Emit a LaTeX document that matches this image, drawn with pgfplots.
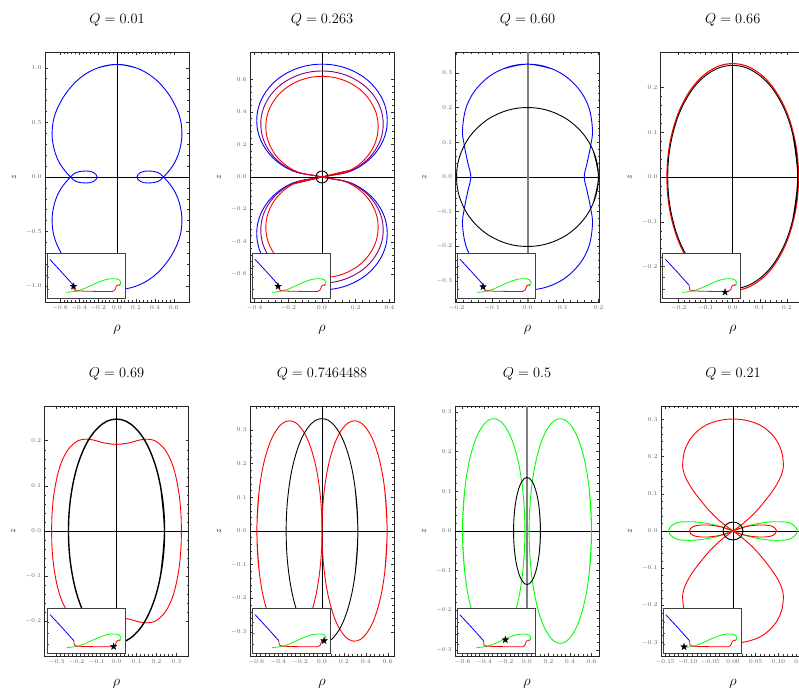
\documentclass[border=0pt]{standalone}
\usepackage{pgfplots}
\pgfplotsset{compat=1.18}
\usepackage{pgfplotstable}

\definecolor{mgreen}{rgb}{0,1,0}
\definecolor{mpurple}{rgb}{0.5,0,0.5}

% filled five-pointed star
\pgfdeclareplotmark{fstar}{%
  \pgfpathmoveto{\pgfqpoint{0pt}{3.5pt}}%
  \pgfpathlineto{\pgfqpoint{-0.82pt}{1.13pt}}%
  \pgfpathlineto{\pgfqpoint{-3.33pt}{1.08pt}}%
  \pgfpathlineto{\pgfqpoint{-1.33pt}{-0.43pt}}%
  \pgfpathlineto{\pgfqpoint{-2.06pt}{-2.83pt}}%
  \pgfpathlineto{\pgfqpoint{0pt}{-1.4pt}}%
  \pgfpathlineto{\pgfqpoint{2.06pt}{-2.83pt}}%
  \pgfpathlineto{\pgfqpoint{1.33pt}{-0.43pt}}%
  \pgfpathlineto{\pgfqpoint{3.33pt}{1.08pt}}%
  \pgfpathlineto{\pgfqpoint{0.82pt}{1.13pt}}%
  \pgfpathclose
  \pgfusepathqfillstroke}

% branches of the small overview diagram
\pgfplotstableread{
x y
0.035 0.86
0.19 0.57
0.34 0.28
}\insetblue
\pgfplotstableread{
x y
0.34 0.28
0.345 0.19
0.37 0.16
0.50 0.15
0.70 0.145
0.84 0.145
0.87 0.18
0.89 0.27
0.93 0.30
}\insetred
\pgfplotstableread{
x y
0.25 0.125
0.35 0.145
0.45 0.19
0.55 0.265
0.65 0.345
0.77 0.415
0.86 0.43
0.92 0.41
0.945 0.36
0.94 0.30
0.92 0.27
}\insetgreen

\pgfplotsset{
  panel/.style={
    anchor=south west, scale only axis, width=144pt, height=250pt,
    axis line style={black!85, line width=0.9pt},
    tick align=inside, major tick length=3pt, minor tick length=1.6pt, minor tick num=4,
    every tick/.append style={black!80, line width=0.5pt},
    tick label style={font=\fontsize{6}{7}\selectfont, text=black!60},
    scaled ticks=false,
    xticklabel style={/pgf/number format/.cd, fixed, fixed zerofill, precision=1},
    yticklabel style={/pgf/number format/.cd, fixed, fixed zerofill, precision=1},
    title style={font=\fontsize{15}{18}\selectfont, at={(axis description cs:0.5,1.105)}, anchor=center},
    xlabel={$\rho$}, ylabel={$z$},
    xlabel style={font=\fontsize{14}{16}\selectfont, at={(axis description cs:0.5,-0.112)}, anchor=center},
    ylabel style={font=\fontsize{9}{10}\selectfont, at={(axis description cs:-0.215,0.5)}, anchor=center},
    every axis plot/.append style={line width=0.9pt, tension=0.65},
  },
  inset/.style={
    anchor=south west, scale only axis, width=78pt, height=45pt,
    xmin=0, xmax=1, ymin=0, ymax=1,
    axis background/.style={fill=white},
    axis line style={black!75, line width=0.9pt},
    xtick=\empty, ytick={0.2,0.45,0.7}, yticklabels={,,},
    tick align=inside, major tick length=2pt, ytick pos=left,
    every tick/.append style={black!70, line width=0.5pt},
    every axis plot/.append style={line width=0.8pt},
  },
}

% overview diagram with the current state marked by a star
\newcommand{\overview}[3]{%
  \begin{axis}[inset, at={(#1pt,#2pt)}]
    \addplot[blue] table {\insetblue};
    \addplot[mgreen, smooth] table {\insetgreen};
    \addplot[red] table {\insetred};
    \addplot[only marks, mark=fstar, mark options={fill=black, draw=black, line width=0.3pt}] coordinates {#3};
  \end{axis}}

\begin{document}
\begin{tikzpicture}[x=1pt, y=1pt]
\useasboundingbox (0pt,0pt) rectangle (799pt,691pt);

% ---------------- Q = 0.01 ----------------
\begin{axis}[panel, at={(45pt,389pt)}, xmin=-0.76, xmax=0.76, ymin=-1.145, ymax=1.145,
  xtick={-0.6,-0.4,-0.2,0,0.2,0.4,0.6}, ytick={-1,-0.5,0,0.5,1}, title={$Q = 0.01$}]
\addplot[black, line width=0.7pt] coordinates {(-0.76,0) (0.76,0)};
\addplot[black, line width=0.7pt] coordinates {(0,-1.145) (0,1.145)};
\addplot[blue, smooth] coordinates {
(-0.2,1.0) (0,1.031) (0.2,1.0) (0.37,0.92) (0.5,0.81) (0.6,0.68) (0.665,0.54) (0.685,0.40)
(0.67,0.28) (0.63,0.17) (0.57,0.08) (0.49,0) (0.43,-0.042) (0.33,-0.055) (0.25,-0.042)
(0.21,0) (0.25,0.042) (0.33,0.055) (0.43,0.042) (0.49,0) (0.57,-0.08) (0.63,-0.17)
(0.67,-0.28) (0.685,-0.40) (0.665,-0.54) (0.6,-0.68) (0.5,-0.81) (0.37,-0.92) (0.2,-1.0)
(0,-1.031) (-0.2,-1.0) (-0.37,-0.92) (-0.5,-0.81) (-0.6,-0.68) (-0.665,-0.54) (-0.685,-0.40)
(-0.67,-0.28) (-0.63,-0.17) (-0.57,-0.08) (-0.49,0) (-0.43,0.042) (-0.33,0.055) (-0.25,0.042)
(-0.21,0) (-0.25,-0.042) (-0.33,-0.055) (-0.43,-0.042) (-0.49,0) (-0.57,0.08) (-0.63,0.17)
(-0.67,0.28) (-0.685,0.40) (-0.665,0.54) (-0.6,0.68) (-0.5,0.81) (-0.37,0.92) (-0.2,1.0)
(0,1.031) (0.2,1.0)};
\end{axis}
\overview{47}{393}{(0.34,0.26)}

% ---------------- Q = 0.263 ----------------
\begin{axis}[panel, at={(250pt,389pt)}, xmin=-0.427, xmax=0.427, ymin=-0.77, ymax=0.77,
  xtick={-0.4,-0.2,0,0.2,0.4}, ytick={-0.6,-0.4,-0.2,0,0.2,0.4,0.6}, title={$Q = 0.263$}]
\addplot[black, line width=0.7pt] coordinates {(-0.427,0) (0.427,0)};
\addplot[black, line width=0.7pt] coordinates {(0,-0.77) (0,0.77)};
\addplot[blue, smooth] coordinates {
(-0.1935,-0.0466) (0,0) (0.1935,0.0466) (0.3351,0.1738) (0.387,0.3475) (0.3351,0.5213) (0.1935,0.6484)
(0,0.695) (-0.1935,0.6484) (-0.3351,0.5213) (-0.387,0.3475) (-0.3351,0.1738) (-0.1935,0.0466)
(0,0) (0.1935,-0.0466) (0.3351,-0.1738) (0.387,-0.3475) (0.3351,-0.5213) (0.1935,-0.6484)
(0,-0.695) (-0.1935,-0.6484) (-0.3351,-0.5213) (-0.387,-0.3475) (-0.3351,-0.1738) (-0.1935,-0.0466)
(0,0) (0.1935,0.0466)};
\addplot[mpurple, smooth] coordinates {
(-0.1815,-0.0437) (0,0) (0.1815,0.0437) (0.3144,0.1633) (0.363,0.3265) (0.3144,0.4898) (0.1815,0.6093)
(0,0.653) (-0.1815,0.6093) (-0.3144,0.4898) (-0.363,0.3265) (-0.3144,0.1633) (-0.1815,0.0437)
(0,0) (0.1815,-0.0437) (0.3144,-0.1633) (0.363,-0.3265) (0.3144,-0.4898) (0.1815,-0.6093)
(0,-0.653) (-0.1815,-0.6093) (-0.3144,-0.4898) (-0.363,-0.3265) (-0.3144,-0.1633) (-0.1815,-0.0437)
(0,0) (0.1815,0.0437)};
\addplot[red, smooth] coordinates {
(-0.1665,-0.0415) (0,0) (0.1665,0.0415) (0.2884,0.155) (0.333,0.31) (0.2884,0.465) (0.1665,0.5785)
(0,0.62) (-0.1665,0.5785) (-0.2884,0.465) (-0.333,0.31) (-0.2884,0.155) (-0.1665,0.0415)
(0,0) (0.1665,-0.0415) (0.2884,-0.155) (0.333,-0.31) (0.2884,-0.465) (0.1665,-0.5785)
(0,-0.62) (-0.1665,-0.5785) (-0.2884,-0.465) (-0.333,-0.31) (-0.2884,-0.155) (-0.1665,-0.0415)
(0,0) (0.1665,0.0415)};
\addplot[black, smooth] coordinates {
(0.0333,-0.0142) (0.036,0) (0.0333,0.0142) (0.0255,0.0262) (0.0138,0.0342) (0,0.037)
(-0.0138,0.0342) (-0.0255,0.0262) (-0.0333,0.0142) (-0.036,0) (-0.0333,-0.0142) (-0.0255,-0.0262)
(-0.0138,-0.0342) (0,-0.037) (0.0138,-0.0342) (0.0255,-0.0262) (0.0333,-0.0142) (0.036,0) (0.0333,0.0142)};
\end{axis}
\overview{252.3}{393}{(0.33,0.26)}

% ---------------- Q = 0.60 ----------------
\begin{axis}[panel, at={(455.5pt,389pt)}, xmin=-0.203, xmax=0.203, ymin=-0.36, ymax=0.36,
  xtick={-0.2,-0.1,0,0.1,0.2}, ytick={-0.3,-0.2,-0.1,0,0.1,0.2,0.3}, title={$Q = 0.60$}]
\addplot[black, line width=0.7pt] coordinates {(-0.203,0) (0.203,0)};
\addplot[black!50, line width=2pt] coordinates {(0,-0.36) (0,0.36)};
\addplot[blue, smooth] coordinates {
(-0.07,0.311) (0,0.325) (0.07,0.311) (0.129,0.271) (0.169,0.211) (0.183,0.14) (0.178,0.09)
(0.168,0.04) (0.16,0) (0.168,-0.04) (0.178,-0.09) (0.183,-0.14) (0.169,-0.211) (0.129,-0.271)
(0.07,-0.311) (0,-0.325) (-0.07,-0.311) (-0.129,-0.271) (-0.169,-0.211) (-0.183,-0.14)
(-0.178,-0.09) (-0.168,-0.04) (-0.16,0) (-0.168,0.04) (-0.178,0.09) (-0.183,0.14) (-0.169,0.211)
(-0.129,0.271) (-0.07,0.311) (0,0.325) (0.07,0.311)};
\addplot[black, smooth] coordinates {
(0.1848,-0.0765) (0.2,0) (0.1848,0.0765) (0.1414,0.1414) (0.0765,0.1848) (0,0.2) (-0.0765,0.1848)
(-0.1414,0.1414) (-0.1848,0.0765) (-0.2,0) (-0.1848,-0.0765) (-0.1414,-0.1414) (-0.0765,-0.1848)
(0,-0.2) (0.0765,-0.1848) (0.1414,-0.1414) (0.1848,-0.0765) (0.2,0) (0.1848,0.0765)};
\end{axis}
\overview{457.3}{393}{(0.33,0.25)}

% ---------------- Q = 0.66 ----------------
\begin{axis}[panel, at={(660.7pt,389pt)}, xmin=-0.266, xmax=0.266, ymin=-0.279, ymax=0.279,
  xtick={-0.2,-0.1,0,0.1,0.2}, ytick={-0.2,-0.1,0,0.1,0.2}, title={$Q = 0.66$}]
\addplot[black, line width=0.7pt] coordinates {(-0.266,0) (0.266,0)};
\addplot[black, line width=0.7pt] coordinates {(0,-0.279) (0,0.279)};
\addplot[red, smooth, line width=1.1pt] coordinates {
(0.2245,-0.0968) (0.243,0) (0.2245,0.0968) (0.1718,0.1789) (0.0930,0.2337) (0,0.253) (-0.0930,0.2337)
(-0.1718,0.1789) (-0.2245,0.0968) (-0.243,0) (-0.2245,-0.0968) (-0.1718,-0.1789) (-0.0930,-0.2337)
(0,-0.253) (0.0930,-0.2337) (0.1718,-0.1789) (0.2245,-0.0968) (0.243,0) (0.2245,0.0968)};
\addplot[black, smooth] coordinates {
(0.2217,-0.0953) (0.24,0) (0.2217,0.0953) (0.1697,0.1761) (0.0918,0.2300) (0,0.249) (-0.0918,0.2300)
(-0.1697,0.1761) (-0.2217,0.0953) (-0.24,0) (-0.2217,-0.0953) (-0.1697,-0.1761) (-0.0918,-0.2300)
(0,-0.249) (0.0918,-0.2300) (0.1697,-0.1761) (0.2217,-0.0953) (0.24,0) (0.2217,0.0953)};
\end{axis}
\overview{662.7}{393}{(0.80,0.13)}

% ---------------- Q = 0.69 ----------------
\begin{axis}[panel, at={(44.5pt,35pt)}, xmin=-0.36, xmax=0.36, ymin=-0.277, ymax=0.277,
  xtick={-0.3,-0.2,-0.1,0,0.1,0.2,0.3}, ytick={-0.2,-0.1,0,0.1,0.2}, title={$Q = 0.69$}]
\addplot[black, line width=0.7pt] coordinates {(-0.36,0) (0.36,0)};
\addplot[black, line width=0.7pt] coordinates {(0,-0.277) (0,0.277)};
\addplot[red, smooth] coordinates {
(-0.06,0.195) (0,0.192) (0.06,0.195) (0.12,0.202) (0.17,0.203) (0.21,0.195) (0.25,0.175) (0.285,0.14)
(0.31,0.09) (0.322,0.04) (0.324,0) (0.322,-0.04) (0.31,-0.09) (0.285,-0.14) (0.25,-0.175)
(0.21,-0.195) (0.17,-0.203) (0.12,-0.202) (0.06,-0.195) (0,-0.192) (-0.06,-0.195) (-0.12,-0.202)
(-0.17,-0.203) (-0.21,-0.195) (-0.25,-0.175) (-0.285,-0.14) (-0.31,-0.09) (-0.322,-0.04) (-0.324,0)
(-0.322,0.04) (-0.31,0.09) (-0.285,0.14) (-0.25,0.175) (-0.21,0.195) (-0.17,0.203) (-0.12,0.202)
(-0.06,0.195) (0,0.192) (0.06,0.195)};
\addplot[black, smooth, line width=1.4pt] coordinates {
(0.2217,-0.0949) (0.24,0) (0.2217,0.0949) (0.1697,0.1754) (0.0918,0.2291) (0,0.248) (-0.0918,0.2291)
(-0.1697,0.1754) (-0.2217,0.0949) (-0.24,0) (-0.2217,-0.0949) (-0.1697,-0.1754) (-0.0918,-0.2291)
(0,-0.248) (0.0918,-0.2291) (0.1697,-0.1754) (0.2217,-0.0949) (0.24,0) (0.2217,0.0949)};
\end{axis}
\overview{47.3}{37.7}{(0.85,0.15)}

% ---------------- Q = 0.7464488 ----------------
\begin{axis}[panel, at={(250pt,35pt)}, xmin=-0.657, xmax=0.657, ymin=-0.371, ymax=0.371,
  xtick={-0.6,-0.4,-0.2,0,0.2,0.4,0.6}, ytick={-0.3,-0.2,-0.1,0,0.1,0.2,0.3}, title={$Q = 0.7464488$}]
\addplot[black, line width=0.7pt] coordinates {(-0.657,0) (0.657,0)};
\addplot[black, line width=0.7pt] coordinates {(0,-0.371) (0,0.371)};
\addplot[red, smooth] coordinates {
(0.5714,-0.1251) (0.594,0) (0.5714,0.1251) (0.507,0.2312) (0.4107,0.3021) (0.297,0.327) (0.1833,0.3021)
(0.087,0.2312) (0.0226,0.1251) (0,0) (0.0226,-0.1251) (0.087,-0.2312) (0.1833,-0.3021) (0.297,-0.327)
(0.4107,-0.3021) (0.507,-0.2312) (0.5714,-0.1251) (0.594,0) (0.5714,0.1251)};
\addplot[red, smooth] coordinates {
(-0.5714,-0.1251) (-0.594,0) (-0.5714,0.1251) (-0.507,0.2312) (-0.4107,0.3021) (-0.297,0.327) (-0.1833,0.3021)
(-0.087,0.2312) (-0.0226,0.1251) (0,0) (-0.0226,-0.1251) (-0.087,-0.2312) (-0.1833,-0.3021) (-0.297,-0.327)
(-0.4107,-0.3021) (-0.507,-0.2312) (-0.5714,-0.1251) (-0.594,0) (-0.5714,0.1251)};
\addplot[black, smooth] coordinates {
(0.3021,-0.1276) (0.327,0) (0.3021,0.1276) (0.2312,0.2358) (0.1251,0.3081) (0,0.3335) (-0.1251,0.3081)
(-0.2312,0.2358) (-0.3021,0.1276) (-0.327,0) (-0.3021,-0.1276) (-0.2312,-0.2358) (-0.1251,-0.3081)
(0,-0.3335) (0.1251,-0.3081) (0.2312,-0.2358) (0.3021,-0.1276) (0.327,0) (0.3021,0.1276)};
\end{axis}
\overview{252.3}{37.7}{(0.92,0.28)}

% ---------------- Q = 0.5 ----------------
\begin{axis}[panel, at={(455pt,35pt)}, xmin=-0.67, xmax=0.67, ymin=-0.315, ymax=0.315,
  xtick={-0.6,-0.4,-0.2,0,0.2,0.4,0.6}, ytick={-0.3,-0.2,-0.1,0,0.1,0.2,0.3}, title={$Q = 0.5$}]
\addplot[black, line width=0.7pt] coordinates {(-0.67,0) (0.67,0)};
\addplot[black!50, line width=2pt] coordinates {(0,-0.315) (0,0.315)};
\addplot[mgreen, smooth] coordinates {
(0.5779,-0.1083) (0.60,0) (0.5779,0.1083) (0.5151,0.2001) (0.4210,0.2615) (0.31,0.283) (0.1990,0.2615)
(0.1049,0.2001) (0.0421,0.1083) (0.02,0) (0.0421,-0.1083) (0.1049,-0.2001) (0.1990,-0.2615) (0.31,-0.283)
(0.4210,-0.2615) (0.5151,-0.2001) (0.5779,-0.1083) (0.60,0) (0.5779,0.1083)};
\addplot[mgreen, smooth] coordinates {
(-0.5779,-0.1083) (-0.60,0) (-0.5779,0.1083) (-0.5151,0.2001) (-0.4210,0.2615) (-0.31,0.283) (-0.1990,0.2615)
(-0.1049,0.2001) (-0.0421,0.1083) (-0.02,0) (-0.0421,-0.1083) (-0.1049,-0.2001) (-0.1990,-0.2615) (-0.31,-0.283)
(-0.4210,-0.2615) (-0.5151,-0.2001) (-0.5779,-0.1083) (-0.60,0) (-0.5779,0.1083)};
\addplot[black, smooth] coordinates {
(0.1155,-0.0517) (0.125,0) (0.1155,0.0517) (0.0884,0.0955) (0.0478,0.1247) (0,0.135) (-0.0478,0.1247)
(-0.0884,0.0955) (-0.1155,0.0517) (-0.125,0) (-0.1155,-0.0517) (-0.0884,-0.0955) (-0.0478,-0.1247)
(0,-0.135) (0.0478,-0.1247) (0.0884,-0.0955) (0.1155,-0.0517) (0.125,0) (0.1155,0.0517)};
\end{axis}
\overview{457}{37.7}{(0.62,0.30)}

% ---------------- Q = 0.21 ----------------
\begin{axis}[panel, at={(661pt,35pt)}, xmin=-0.159, xmax=0.159, ymin=-0.336, ymax=0.336,
  xtick={-0.15,-0.1,-0.05,0,0.05,0.1,0.15}, ytick={-0.3,-0.2,-0.1,0,0.1,0.2,0.3},
  xticklabel style={/pgf/number format/precision=2}, title={$Q = 0.21$}]
\addplot[black, line width=0.7pt] coordinates {(-0.159,0) (0.159,0)};
\addplot[black, line width=0.7pt] coordinates {(0,-0.336) (0,0.336)};
\addplot[red, smooth] coordinates {
(-0.02,-0.018) (0,0) (0.02,0.018) (0.045,0.045) (0.07,0.08) (0.094,0.12) (0.108,0.155) (0.111,0.185)
(0.104,0.225) (0.084,0.262) (0.05,0.29) (0,0.301) (-0.05,0.29) (-0.084,0.262) (-0.104,0.225)
(-0.111,0.185) (-0.108,0.155) (-0.094,0.12) (-0.07,0.08) (-0.045,0.045) (-0.02,0.018) (0,0)
(0.02,-0.018) (0.045,-0.045) (0.07,-0.08) (0.094,-0.12) (0.108,-0.155) (0.111,-0.185) (0.104,-0.225)
(0.084,-0.262) (0.05,-0.29) (0,-0.301) (-0.05,-0.29) (-0.084,-0.262) (-0.104,-0.225) (-0.111,-0.185)
(-0.108,-0.155) (-0.094,-0.12) (-0.07,-0.08) (-0.045,-0.045) (-0.02,-0.018) (0,0) (0.02,0.018)};
\addplot[mgreen, smooth] coordinates {
(-0.03,-0.013) (0,0) (0.03,0.013) (0.065,0.022) (0.1,0.025) (0.128,0.02) (0.142,0) (0.128,-0.02)
(0.1,-0.025) (0.065,-0.022) (0.03,-0.013) (0,0) (-0.03,0.013) (-0.065,0.022) (-0.1,0.025)
(-0.128,0.02) (-0.142,0) (-0.128,-0.02) (-0.1,-0.025) (-0.065,-0.022) (-0.03,-0.013) (0,0) (0.03,0.013)};
\addplot[red, smooth] coordinates {
(-0.02,-0.009) (0,0) (0.02,0.009) (0.045,0.015) (0.07,0.016) (0.088,0.012) (0.096,0) (0.088,-0.012)
(0.07,-0.016) (0.045,-0.015) (0.02,-0.009) (0,0) (-0.02,0.009) (-0.045,0.015) (-0.07,0.016)
(-0.088,0.012) (-0.096,0) (-0.088,-0.012) (-0.07,-0.016) (-0.045,-0.015) (-0.02,-0.009) (0,0) (0.02,0.009)};
\addplot[black, smooth] coordinates {
(0.0203,-0.0092) (0.022,0) (0.0203,0.0092) (0.0156,0.0170) (0.0084,0.0222) (0,0.024) (-0.0084,0.0222)
(-0.0156,0.0170) (-0.0203,0.0092) (-0.022,0) (-0.0203,-0.0092) (-0.0156,-0.0170) (-0.0084,-0.0222)
(0,-0.024) (0.0084,-0.0222) (0.0156,-0.0170) (0.0203,-0.0092) (0.022,0) (0.0203,0.0092)};
\end{axis}
\overview{663}{37.7}{(0.27,0.145)}

\end{tikzpicture}
\end{document}
